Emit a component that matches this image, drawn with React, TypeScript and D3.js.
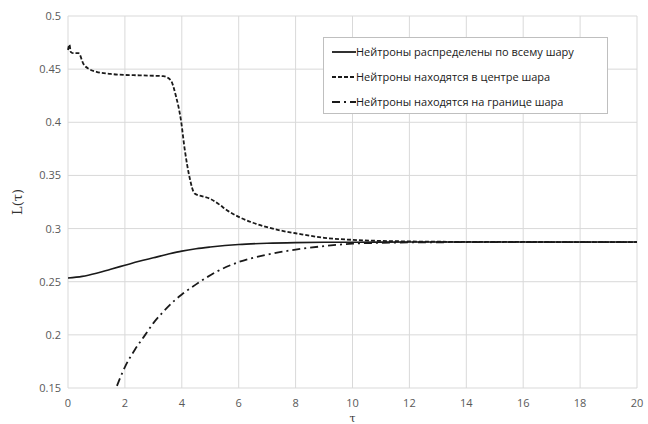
import React, { useEffect, useRef } from "react";
import * as d3 from "d3";

const W = 648;
const H = 424;
const margin = { top: 16, right: 11, bottom: 36, left: 68 };

// Нейтроны распределены по всему шару
const tauUniform = [0, 0.5, 1, 1.5, 2, 2.5, 3, 3.5, 4, 4.5, 5, 6, 7, 8, 9, 10, 12, 14, 16, 18, 20];
const lUniform = [0.2535, 0.255, 0.258, 0.2618, 0.2655, 0.2692, 0.2725, 0.2758, 0.2788, 0.281, 0.2826, 0.285, 0.2862, 0.2868, 0.2871, 0.2872, 0.2873, 0.2873, 0.2873, 0.2873, 0.2873];

// Нейтроны находятся в центре шара
const tauCenter = [0, 0.05, 0.1, 0.2, 0.37, 0.55, 0.75, 1, 1.5, 2, 2.5, 3, 3.35, 3.6, 3.8, 3.97, 4.1, 4.27, 4.45, 4.7, 5, 5.3, 5.6, 6, 6.5, 7, 7.5, 8, 9, 10, 11, 12, 14, 16, 18, 20];
const lCenter = [0.468, 0.473, 0.466, 0.465, 0.465, 0.4545, 0.45, 0.4475, 0.4455, 0.4445, 0.4442, 0.4438, 0.4434, 0.44, 0.424, 0.402, 0.375, 0.3485, 0.333, 0.3305, 0.328, 0.323, 0.317, 0.311, 0.3055, 0.3013, 0.298, 0.2956, 0.2913, 0.2894, 0.2884, 0.2879, 0.2875, 0.2874, 0.2873, 0.2873];

// Нейтроны находятся на границе шара
const tauEdge = [1.72, 2, 2.35, 2.7, 3, 3.34, 3.75, 4, 4.5, 5.2, 6, 7, 8, 9, 10, 11, 12, 14, 16, 18, 20];
const lEdge = [0.152, 0.1697, 0.186, 0.1995, 0.211, 0.2215, 0.2325, 0.238, 0.2475, 0.2591, 0.2685, 0.2755, 0.2802, 0.2835, 0.2858, 0.2866, 0.287, 0.2872, 0.2873, 0.2873, 0.2873];

const xTicks = [0, 2, 4, 6, 8, 10, 12, 14, 16, 18, 20];
const yTicks = [0.15, 0.2, 0.25, 0.3, 0.35, 0.4, 0.45, 0.5];

const legendLabels = [
  "Нейтроны распределены по всему шару",
  "Нейтроны находятся в центре шара",
  "Нейтроны находятся на границе шара",
];
const dashes = [null, "4,2", "8,4,2,4"];

const App = () => {
  const anchor = useRef<SVGSVGElement>(null);

  useEffect(() => {
    const svg = d3.select(anchor.current);
    svg.selectAll("*").remove();

    const x = d3.scaleLinear().domain([0, 20]).range([margin.left, W - margin.right]);
    const y = d3.scaleLinear().domain([0.15, 0.5]).range([H - margin.bottom, margin.top]);

    const font = "'Open Sans', 'Liberation Sans', sans-serif";

    // gridlines
    svg.append("g").selectAll("line").data(yTicks).enter().append("line")
      .attr("x1", x(0)).attr("x2", x(20))
      .attr("y1", (d) => y(d)).attr("y2", (d) => y(d))
      .attr("stroke", "#d9d9d9").attr("stroke-width", 1);
    svg.append("g").selectAll("line").data(xTicks).enter().append("line")
      .attr("x1", (d) => x(d)).attr("x2", (d) => x(d))
      .attr("y1", y(0.15)).attr("y2", y(0.5))
      .attr("stroke", "#d9d9d9").attr("stroke-width", 1);

    // tick labels
    svg.append("g").selectAll("text").data(yTicks).enter().append("text")
      .attr("x", x(0) - 7).attr("y", (d) => y(d) + 4)
      .attr("text-anchor", "end")
      .attr("font-family", font).attr("font-size", 11).attr("fill", "#595959")
      .text((d) => d3.format("")(d));
    svg.append("g").selectAll("text").data(xTicks).enter().append("text")
      .attr("x", (d) => x(d)).attr("y", y(0.15) + 19)
      .attr("text-anchor", "middle")
      .attr("font-family", font).attr("font-size", 11).attr("fill", "#595959")
      .text((d) => d);

    // axis titles
    svg.append("text")
      .attr("transform", `translate(22,${y(0.325)}) rotate(-90)`)
      .attr("text-anchor", "middle")
      .attr("font-family", "'DejaVu Serif', 'Liberation Serif', serif").attr("font-size", 13).attr("fill", "#333")
      .text("L(τ)");
    svg.append("text")
      .attr("x", x(10)).attr("y", H - 2)
      .attr("text-anchor", "middle")
      .attr("font-family", "'DejaVu Serif', 'Liberation Serif', serif").attr("font-size", 11).attr("fill", "#333")
      .text("τ");

    const line = d3.line<[number, number]>()
      .x((d) => x(d[0])).y((d) => y(d[1]))
      .curve(d3.curveMonotoneX);

    const series = [
      d3.zip(tauUniform, lUniform),
      d3.zip(tauCenter, lCenter),
      d3.zip(tauEdge, lEdge),
    ];

    series.forEach((s, i) => {
      svg.append("path")
        .datum(s as [number, number][])
        .attr("d", line)
        .attr("fill", "none")
        .attr("stroke", "#1a1a1a")
        .attr("stroke-width", i === 0 ? 1.6 : 1.8)
        .attr("stroke-dasharray", dashes[i]);
    });

    // legend
    const lg = svg.append("g");
    lg.append("rect")
      .attr("x", 323.5).attr("y", 37.5).attr("width", 284).attr("height", 76)
      .attr("fill", "white").attr("stroke", "#bfbfbf");
    legendLabels.forEach((lab, i) => {
      const ly = 52 + i * 25;
      lg.append("line")
        .attr("x1", 332).attr("x2", 356).attr("y1", ly).attr("y2", ly)
        .attr("stroke", "#1a1a1a").attr("stroke-width", 1.8)
        .attr("stroke-dasharray", dashes[i]);
      lg.append("text")
        .attr("x", 356).attr("y", ly + 4)
        .attr("font-family", font).attr("font-size", 11).attr("fill", "#1a1a1a")
        .text(lab);
    });
  }, []);

  return (
    <svg ref={anchor} width={W} height={H}
      style={{ position: "absolute", left: 0, top: 0, background: "white" }} />
  );
};

export default App;
